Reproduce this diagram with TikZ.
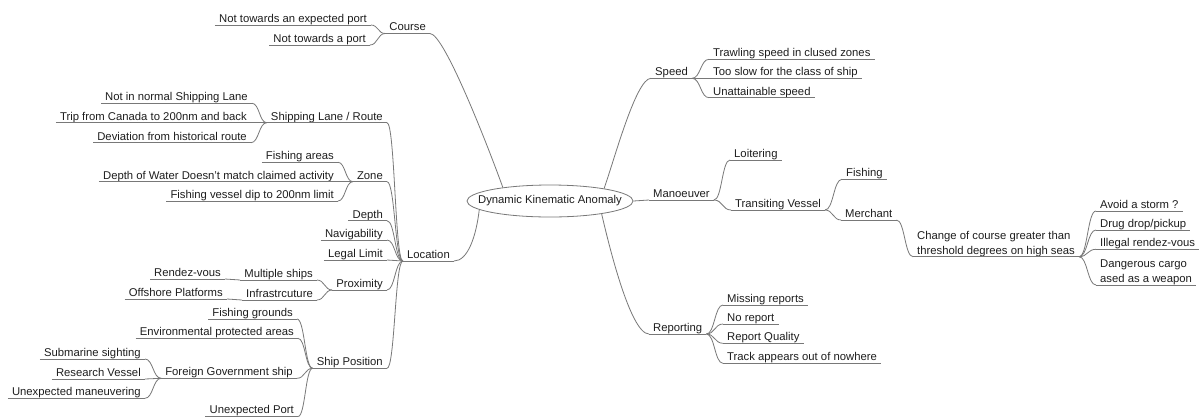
\documentclass[tikz,border=0pt]{standalone}
\usepackage{fontspec}
\setmainfont{Liberation Sans}
\usetikzlibrary{shapes.geometric,calc}
\definecolor{edgec}{RGB}{120,120,120}
\definecolor{txtc}{RGB}{30,30,30}
\tikzset{
  line/.style={draw=edgec, line width=0.8pt},
  mmbase/.style={inner xsep=4pt, inner ysep=0pt, text=txtc,
    font=\fontsize{11.3}{15}\selectfont,
    append after command={(\tikzlastnode.south west) edge[line] (\tikzlastnode.south east)}},
  mm/.style={mmbase, text height=8pt, text depth=2.5pt},
  mmtwo/.style={mmbase, align=left},
  lside/.style={anchor=south east},
  rside/.style={anchor=south west},
  rootnode/.style={ellipse, draw=edgec, line width=0.8pt, minimum width=166pt,
    minimum height=32pt, inner sep=0pt, text=txtc, font=\fontsize{11.3}{15}\selectfont},
  fork/.style={line, to path={let \p1=(\tikztostart), \p2=(\tikztotarget) in
    .. controls ({(\x1+\x2)/2},\y1) and ({(\x1+\x2)/2},\y2) .. (\tikztotarget)}},
}
\begin{document}
\begin{tikzpicture}[x=1pt,y=-1pt]
\useasboundingbox (0,0) rectangle (1200,416);
\fill[white] (0,0) rectangle (1200,416);

% root
\node[rootnode] (root) at (550,201) {\makebox[0pt]{Dynamic Kinematic Anomaly}};

% left side
\node[mm,lside] (course) at (430,33.5) {Course};
\node[mm,lside] (c1) at (371,25) {Not towards an expected port};
\node[mm,lside] (c2) at (370,45) {Not towards a port};

\node[mm,lside] (loc) at (454,261) {Location};
\node[mm,lside] (ship) at (387,122.7) {Shipping Lane / Route};
\node[mm,lside] (s1) at (252,103.3) {Not in normal Shipping Lane};
\node[mm,lside] (s2) at (251,122.7) {Trip from Canada to 200nm and back};
\node[mm,lside] (s3) at (251,142.7) {Deviation from historical route};
\node[mm,lside] (zone) at (387,181.7) {Zone};
\node[mm,lside] (z1) at (338,162.3) {Fishing areas};
\node[mm,lside] (z2) at (338,181.7) {Depth of Water Doesn't match claimed activity};
\node[mm,lside] (z3) at (338,201) {Fishing vessel dip to 200nm limit};
\node[mm,lside] (depth) at (387,220.7) {Depth};
\node[mm,lside] (nav) at (387,240) {Navigability};
\node[mm,lside] (legal) at (387,260) {Legal Limit};
\node[mm,lside] (prox) at (387,290) {Proximity};
\node[mm,lside] (ms) at (317,280) {Multiple ships};
\node[mm,lside] (rv) at (225,279) {Rendez-vous};
\node[mm,lside] (infra) at (317,300) {Infrastrcuture};
\node[mm,lside] (off) at (227,299) {Offshore Platforms};
\node[mm,lside] (sp) at (387,368.3) {Ship Position};
\node[mm,lside] (fg) at (297,319) {Fishing grounds};
\node[mm,lside] (env) at (298,338.3) {Environmental protected areas};
\node[mm,lside] (fgs) at (297,378.3) {Foreign Government ship};
\node[mm,lside] (up) at (298,416.5) {Unexpected Port};
\node[mm,lside] (ss) at (145,359) {Submarine sighting};
\node[mm,lside] (rves) at (145,379) {Research Vessel};
\node[mm,lside] (um) at (145,398.3) {Unexpected maneuvering};

% right side
\node[mm,rside] (speed) at (651,78.3) {Speed};
\node[mm,rside] (t1) at (709,59.3) {Trawling speed in clused zones};
\node[mm,rside] (t2) at (709,78.3) {Too slow for the class of ship};
\node[mm,rside] (t3) at (709,97.7) {Unattainable speed};
\node[mm,rside] (man) at (649,200) {Manoeuver};
\node[mm,rside] (loit) at (730,160) {Loitering};
\node[mm,rside] (trans) at (731,210) {Transiting Vessel};
\node[mm,rside] (fish) at (842,179.3) {Fishing};
\node[mm,rside] (merch) at (841,220) {Merchant};
\node[mmtwo,rside] (chg) at (913,256.7) {Change of course greater than\\threshold degrees on high seas};
\node[mm,rside] (av) at (1096,211) {Avoid a storm ?};
\node[mm,rside] (drug) at (1096,230) {Drug drop/pickup};
\node[mm,rside] (ill) at (1096,249.3) {Illegal rendez-vous};
\node[mmtwo,rside] (dang) at (1096,285) {Dangerous cargo\\ased as a weapon};
\node[mm,rside] (rep) at (649,334) {Reporting};
\node[mm,rside] (mr) at (723,305) {Missing reports};
\node[mm,rside] (nr) at (723,324) {No report};
\node[mm,rside] (rq) at (723,343.3) {Report Quality};
\node[mm,rside] (ta) at (723,363.3) {Track appears out of nowhere};

% root connectors
\draw[line] (root.164.8) .. controls +(-10,-28) and +(15,0) .. (course.south east);
\draw[line] (root.13.5) .. controls +(10,-28) and +(-15,0) .. (speed.south west);
\draw[line] (root.-173.3) .. controls +(-3,26) and +(14,0) .. (loc.south east);
\draw[line] (root.-14.3) .. controls +(6,26) and +(-19,0) .. (rep.south west);
\path (root.east) edge[fork] (man.south west);

% left connectors
\path (course.south west) edge[fork] (c1.south east) edge[fork] (c2.south east);
\path (loc.south west) edge[fork] (ship.south east) edge[fork] (zone.south east)
  edge[fork] (depth.south east) edge[fork] (nav.south east) edge[fork] (legal.south east)
  edge[fork] (prox.south east) edge[fork] (sp.south east);
\path (ship.south west) edge[fork] (s1.south east) edge[fork] (s2.south east) edge[fork] (s3.south east);
\path (zone.south west) edge[fork] (z1.south east) edge[fork] (z2.south east) edge[fork] (z3.south east);
\path (prox.south west) edge[fork] (ms.south east) edge[fork] (infra.south east);
\path (ms.south west) edge[fork] (rv.south east);
\path (infra.south west) edge[fork] (off.south east);
\path (sp.south west) edge[fork] (fg.south east) edge[fork] (env.south east)
  edge[fork] (fgs.south east) edge[fork] (up.south east);
\path (fgs.south west) edge[fork] (ss.south east) edge[fork] (rves.south east) edge[fork] (um.south east);

% right connectors
\path (speed.south east) edge[fork] (t1.south west) edge[fork] (t2.south west) edge[fork] (t3.south west);
\path (man.south east) edge[fork] (loit.south west) edge[fork] (trans.south west);
\path (trans.south east) edge[fork] (fish.south west) edge[fork] (merch.south west);
\path (merch.south east) edge[fork] (chg.south west);
\path (chg.south east) edge[fork] (av.south west) edge[fork] (drug.south west)
  edge[fork] (ill.south west) edge[fork] (dang.south west);
\path (rep.south east) edge[fork] (mr.south west) edge[fork] (nr.south west)
  edge[fork] (rq.south west) edge[fork] (ta.south west);
\end{tikzpicture}
\end{document}
